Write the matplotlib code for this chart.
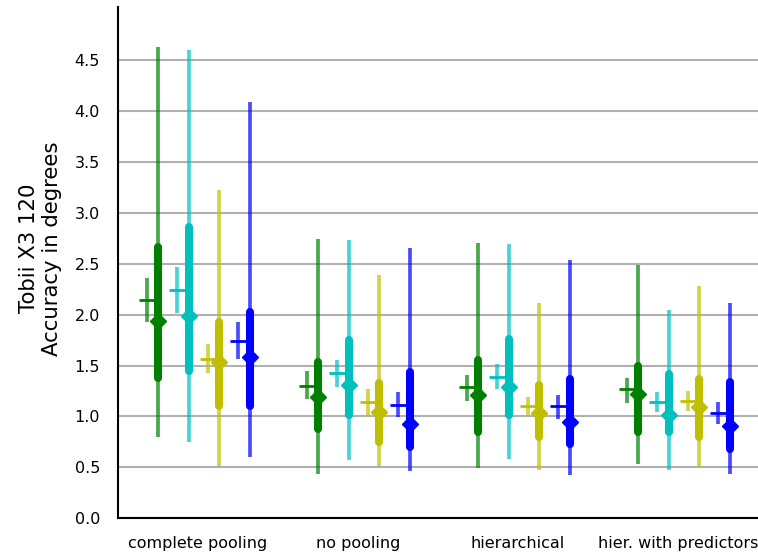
import matplotlib
matplotlib.use('Agg')
import matplotlib.pyplot as plt

groups = ['complete pooling', 'no pooling', 'hierarchical', 'hier. with predictors']
colors = ['g', 'c', 'y', 'b']

# "+" markers: mean with its interval (rows = groups, cols = colors)
plus_mid = [[2.145, 2.245, 1.567, 1.745],
            [1.30, 1.425, 1.14, 1.115],
            [1.285, 1.385, 1.10, 1.10],
            [1.27, 1.14, 1.155, 1.03]]
plus_lo = [[1.93, 2.02, 1.43, 1.56],
           [1.17, 1.29, 1.015, 0.99],
           [1.155, 1.27, 1.0, 0.975],
           [1.135, 1.04, 1.055, 0.925]]
plus_hi = [[2.36, 2.47, 1.71, 1.93],
           [1.45, 1.55, 1.27, 1.24],
           [1.41, 1.515, 1.19, 1.21],
           [1.38, 1.245, 1.25, 1.14]]

# diamonds: median, thick interval, thin interval
med = [[1.94, 1.99, 1.54, 1.58],
       [1.195, 1.31, 1.04, 0.93],
       [1.21, 1.285, 1.03, 0.95],
       [1.22, 1.01, 1.09, 0.91]]
q_lo = [[1.38, 1.45, 1.105, 1.105],
        [0.875, 1.01, 0.75, 0.695],
        [0.85, 1.01, 0.795, 0.73],
        [0.85, 0.85, 0.795, 0.68]]
q_hi = [[2.67, 2.86, 1.93, 2.03],
        [1.535, 1.75, 1.33, 1.435],
        [1.555, 1.76, 1.305, 1.37],
        [1.50, 1.42, 1.37, 1.34]]
r_lo = [[0.80, 0.75, 0.51, 0.60],
        [0.435, 0.57, 0.51, 0.46],
        [0.49, 0.58, 0.475, 0.425],
        [0.535, 0.475, 0.50, 0.43]]
r_hi = [[4.63, 4.60, 3.23, 4.09],
        [2.745, 2.73, 2.39, 2.66],
        [2.705, 2.69, 2.115, 2.54],
        [2.49, 2.05, 2.28, 2.115]]

fig = plt.figure(figsize=(7.58, 5.59), dpi=100)
ax = fig.add_axes([0.1557, 0.073, 0.8443, 0.9137])

for g in range(len(groups)):
    for i, c in enumerate(colors):
        xp = g - 0.32 + 0.19 * i
        xd = xp + 0.072
        # mean marker with interval
        ax.plot([xp, xp], [plus_lo[g][i], plus_hi[g][i]], color=c, alpha=0.7,
                lw=2.7, solid_capstyle='butt')
        ax.plot(xp, plus_mid[g][i], marker='_', ms=11.5, mew=2, color=c)
        # wide interval, thick interval, median
        ax.plot([xd, xd], [r_lo[g][i], r_hi[g][i]], color=c, alpha=0.7,
                lw=2.7, solid_capstyle='butt')
        ax.plot([xd, xd], [q_lo[g][i], q_hi[g][i]], color=c, lw=5.8,
                solid_capstyle='round')
        ax.plot(xd, med[g][i], marker='D', ms=8, mew=1, color=c)

ax.set_xlim(-0.5, 3.5)
ax.set_ylim(0, 5.02)
ax.set_xticks(range(len(groups)))
ax.set_xticklabels(groups)
ax.set_yticks([0, 0.5, 1, 1.5, 2, 2.5, 3, 3.5, 4, 4.5])
ax.tick_params(length=0, pad=13, labelsize=11.5)
ax.yaxis.grid(True, color='#b0b0b0', lw=1.5)
ax.set_axisbelow(True)
for s in ['top', 'right']:
    ax.spines[s].set_visible(False)
for s in ['left', 'bottom']:
    ax.spines[s].set_linewidth(1.5)
    ax.spines[s].set_color('black')
ax.set_ylabel('Tobii X3 120\nAccuracy in degrees', fontsize=15.3)
ax.yaxis.set_label_coords(-0.088, 0.528)

fig.savefig('out.png', dpi=100)
